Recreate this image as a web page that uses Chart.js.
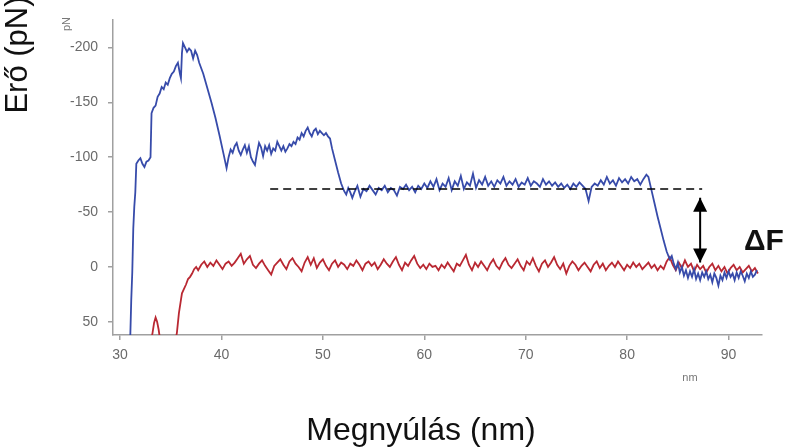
<!DOCTYPE html>
<html>
<head>
<meta charset="utf-8">
<script src="https://cdn.jsdelivr.net/npm/chart.js@4.4.1/dist/chart.umd.min.js"></script>
<style>
  html, body { margin: 0; padding: 0; background: #fff; }
  #wrap { width: 798px; height: 448px; }
</style>
</head>
<body>
<div id="wrap"><canvas id="c" width="798" height="448"></canvas></div>
<script>
// ---- data ----
const xTicks = [30, 40, 50, 60, 70, 80, 90];
const yTicks = [-200, -150, -100, -50, 0, 50];

// blue: retraction curve with unfolding events
const blueX = [31.0, 31.1, 31.2, 31.3, 31.4, 31.5, 31.6, 31.8, 32.0, 32.2, 32.4, 32.6, 32.8, 33.0, 33.1, 33.3, 33.5, 33.7, 33.9, 34.1, 34.3, 34.5, 34.7, 34.9, 35.1, 35.3, 35.5, 35.7, 35.9, 36.0, 36.1, 36.2, 36.4, 36.6, 36.8, 37.0, 37.2, 37.4, 37.6, 37.8,
  38.2, 38.6, 39.0, 39.4, 39.8, 40.2, 40.5, 40.7, 40.9,
  41.1, 41.3, 41.5, 41.7, 41.9, 42.1, 42.3, 42.5, 42.7, 42.9, 43.1, 43.3, 43.5, 43.7, 43.9, 44.1, 44.3, 44.5, 44.7, 44.9, 45.1, 45.3, 45.5, 45.7, 45.9, 46.1, 46.3, 46.5, 46.7, 46.9, 47.1, 47.3, 47.5, 47.7, 47.9, 48.1, 48.3, 48.5, 48.7, 48.9, 49.1, 49.3, 49.5, 49.7, 49.9, 50.1, 50.3, 50.5, 50.7,
  50.9, 51.2, 51.5, 51.8, 52.1, 52.3, 52.5, 52.7, 52.9,
  53.1, 53.4, 53.7, 54.0, 54.3, 54.6, 54.9, 55.2, 55.5, 55.8, 56.1, 56.4, 56.7, 57.0, 57.3, 57.6, 57.9, 58.2, 58.5, 58.8, 59.1, 59.4, 59.7, 60.0, 60.3, 60.6, 60.9, 61.2, 61.5, 61.8, 62.1, 62.4, 62.7, 63.0, 63.3, 63.6, 63.9, 64.2, 64.5, 64.8, 65.1, 65.4, 65.7, 66.0, 66.3, 66.6, 66.9, 67.2, 67.5, 67.8, 68.1, 68.4, 68.7, 69.0, 69.3, 69.6, 69.9, 70.2, 70.5, 70.8, 71.1, 71.4, 71.7, 72.0, 72.3, 72.6, 72.9, 73.2, 73.5, 73.8, 74.1, 74.4, 74.7, 75.0, 75.3, 75.6, 75.9, 76.2, 76.5, 76.8, 77.1, 77.4, 77.7, 78.0, 78.3, 78.6, 78.9, 79.2, 79.5, 79.8, 80.1, 80.4, 80.7, 81.0, 81.3, 81.6, 81.9, 82.1,
  82.4, 82.7, 83.0, 83.3, 83.6, 83.9, 84.2,
  84.4, 84.6, 84.8, 85.0, 85.2, 85.4, 85.6, 85.8, 86.0, 86.2, 86.4, 86.6, 86.8, 87.0, 87.2, 87.4, 87.6, 87.8, 88.0, 88.2, 88.4, 88.6, 88.8, 89.0, 89.2, 89.4, 89.6, 89.8, 90.0, 90.2, 90.4, 90.6, 90.8, 91.0, 91.2, 91.4, 91.6, 91.8, 92.0, 92.2, 92.4, 92.6, 92.8];
const blueY = [65, 30, 5, -35, -55, -68, -94, -97, -99, -94, -91, -96, -97, -100, -140, -145, -147, -155, -158, -164, -162, -168, -166, -172, -176, -178, -183, -186, -176, -172, -195, -204, -200, -196, -199, -197, -190, -197, -193, -186,
  -176, -163, -150, -136, -120, -103, -90, -100, -107,
  -104, -110, -113, -106, -102, -107, -111, -104, -110, -100, -96, -93, -104, -113, -109, -101, -110, -106, -111, -103, -108, -106, -114, -110, -106, -110, -105, -108, -112, -110, -114, -112, -118, -116, -122, -119, -124, -127, -122, -119, -124, -126, -121, -124, -122, -120, -122, -119, -117,
  -108, -97, -86, -76, -69, -66, -72, -68, -63,
  -68, -74, -64, -71, -69, -74, -70, -66, -72, -70, -74, -68, -72, -70, -65, -73, -71, -75, -70, -73, -68, -74, -71, -76, -72, -78, -73, -80, -70, -76, -73, -81, -70, -78, -74, -83, -71, -77, -74, -85, -72, -79, -75, -82, -74, -78, -73, -79, -76, -82, -74, -78, -75, -80, -73, -77, -75, -81, -74, -78, -76, -73, -80, -75, -78, -74, -77, -73, -76, -72, -75, -71, -76, -73, -77, -74, -71, -60, -73, -76, -74, -79, -75, -82, -76, -79, -74, -81, -77, -80, -76, -82, -78, -80, -75, -80, -84, -82,
  -70, -58, -46, -35, -24, -14, -7,
  -10, -3, 2, -4, 5, 0, 8, 3, 10, 4, 9, 2, 11, 6, 12, 5, 9, 4, 11, 7, 14, 6, 10, 17, 8, 12, 5, 10, 4, 9, 6, 12, 5, 10, 4, 8, 13, 6, 10, 4, 9, 7, 3];

// red: approach curve
const redX = [33.0, 33.2, 33.35, 33.5, 33.65, 33.8, 34.0, 35.4, 35.6, 35.8, 36.0, 36.1, 36.3, 36.5, 36.7, 36.9, 37.1, 37.3, 37.5, 37.7,
  38.0, 38.3, 38.6, 38.9, 39.2, 39.5, 39.8, 40.1, 40.4, 40.7, 41.0, 41.3, 41.6, 41.9, 42.2, 42.5, 42.8, 43.1, 43.4, 43.7, 44.0, 44.3, 44.6, 44.9, 45.2, 45.5, 45.8, 46.1, 46.4, 46.7, 47.0, 47.3, 47.6, 47.9, 48.2, 48.5, 48.8, 49.1, 49.4, 49.7, 50.0, 50.3, 50.6, 50.9, 51.2, 51.5, 51.8, 52.1, 52.4, 52.7, 53.0, 53.3, 53.6, 53.9, 54.2, 54.5, 54.8, 55.1, 55.4, 55.7, 56.0, 56.3, 56.6, 56.9, 57.2, 57.5, 57.8, 58.1, 58.4, 58.7, 59.0, 59.3, 59.6, 59.9, 60.2, 60.5, 60.8, 61.1, 61.4, 61.7, 62.0, 62.3, 62.6, 62.9, 63.2, 63.5, 63.8, 64.1, 64.4, 64.7, 65.0, 65.3, 65.6, 65.9, 66.2, 66.5, 66.8, 67.1, 67.4, 67.7, 68.0, 68.3, 68.6, 68.9, 69.2, 69.5, 69.8, 70.1, 70.4, 70.7, 71.0, 71.3, 71.6, 71.9, 72.2, 72.5, 72.8, 73.1, 73.4, 73.7, 74.0, 74.3, 74.6, 74.9, 75.2, 75.5, 75.8, 76.1, 76.4, 76.7, 77.0, 77.3, 77.6, 77.9, 78.2, 78.5, 78.8, 79.1, 79.4, 79.7, 80.0, 80.3, 80.6, 80.9, 81.2, 81.5, 81.8, 82.1, 82.4, 82.7, 83.0, 83.3, 83.6, 83.9, 84.2, 84.5, 84.8, 85.1, 85.4, 85.7, 86.0, 86.3, 86.6, 86.9, 87.2, 87.5, 87.8, 88.1, 88.4, 88.7, 89.0, 89.3, 89.6, 89.9, 90.2, 90.5, 90.8, 91.1, 91.4, 91.7, 92.0, 92.3, 92.6, 92.9];
const redY = [70, 60, 51, 46, 50, 57, 70, 70, 60, 42, 30, 24, 20, 16, 11, 9, 6, 2, 0, 3,
  -2, -5, 0, -4, -1, -6, -2, 2, -3, -5, -1, -4, -8, -12, -3, -7, -10, -2, 1, -3, -6, -1, 3, 7, -1, -4, -7, -2, 2, -5, -8, -3, 0, 4, -4, -9, -2, -8, 1, -4, -7, -1, 3, -3, -6, 0, -4, -2, 2, -3, -1, -6, -2, 3, -3, -5, -1, -4, 2, -2, -7, -3, 0, -5, -9, -2, 3, -4, -1, -6, -10, -3, 1, -2, 2, -3, 0, -1, 3, -2, 1, -4, 0, 4, -3, -1, -6, -11, -2, 3, -4, 0, -5, -1, 3, -3, -7, -1, 2, -4, -8, -2, 1, -3, -7, -1, 3, -5, -2, -8, -1, 4, -3, -6, 0, -4, -9, -2, 2, -3, 6, -1, -5, -2, 3, -1, -4, 0, 4, -2, -5, 1, -3, 3, -1, -4, 0, -5, -1, 3, -2, 1, -4, 0, -3, 2, -1, -4, 1, -2, 3, -1, 2, -5, -9, -2, 3, -4, 1, -6, 0, -3, 4, -2, 2, -1, 5, 0, -3, 3, -1, 4, 0, 6, 1, -2, 3, 0, 5, 2, -1, 4, 1, 6];

// reference level (dashed) and the force-difference arrow
const dashX = [44.8, 87.4];
const dashY = [-71, -71];
const arrowX = [87.2, 87.2];
const arrowY = [-63, -4];

const toPts = (xs, ys) => xs.map((v, i) => ({ x: v, y: ys[i] }));
const FONT = '"Liberation Sans", Arial, sans-serif';

const annotate = {
  id: 'annotate',
  afterDatasetsDraw(chart) {
    const { ctx, scales: { x, y } } = chart;
    const ax = x.getPixelForValue(arrowX[0]);
    const yT = y.getPixelForValue(arrowY[0]);
    const yB = y.getPixelForValue(arrowY[1]);
    ctx.save();
    ctx.fillStyle = '#000';
    ctx.beginPath();
    ctx.moveTo(ax, yT); ctx.lineTo(ax - 7, yT + 14); ctx.lineTo(ax + 7, yT + 14); ctx.closePath(); ctx.fill();
    ctx.beginPath();
    ctx.moveTo(ax, yB); ctx.lineTo(ax - 7, yB - 14); ctx.lineTo(ax + 7, yB - 14); ctx.closePath(); ctx.fill();
    ctx.restore();
  },
  afterDraw(chart) {
    const ctx = chart.ctx;
    ctx.save();
    ctx.fillStyle = '#111';
    ctx.font = '31px ' + FONT;
    ctx.textAlign = 'center';
    ctx.textBaseline = 'alphabetic';
    ctx.save();
    ctx.translate(27, 55);
    ctx.rotate(-Math.PI / 2);
    ctx.fillText('Erő (pN)', 0, 0);
    ctx.restore();
    ctx.font = '32px ' + FONT;
    ctx.fillText('Megnyúlás (nm)', 421, 440);
    ctx.font = 'bold 30px ' + FONT;
    ctx.textAlign = 'left';
    ctx.fillText('ΔF', 744, 250);
    ctx.fillStyle = '#777';
    ctx.font = '11px ' + FONT;
    ctx.textAlign = 'center';
    ctx.textBaseline = 'middle';
    ctx.fillText('nm', 690, 378);
    ctx.save();
    ctx.translate(67, 24);
    ctx.rotate(-Math.PI / 2);
    ctx.fillText('pN', 0, 0);
    ctx.restore();
    ctx.restore();
  }
};

new Chart(document.getElementById('c'), {
  type: 'scatter',
  data: {
    datasets: [
      { label: 'retract', data: toPts(blueX, blueY), showLine: true, borderColor: 'rgb(55,75,170)', borderWidth: 1.8, pointRadius: 0, order: 1 },
      { label: 'approach', data: toPts(redX, redY), showLine: true, borderColor: 'rgb(185,40,50)', borderWidth: 1.8, pointRadius: 0, order: 2 },
      { label: 'level', data: toPts(dashX, dashY), showLine: true, borderColor: '#000', borderWidth: 1.5, borderDash: [8, 5], pointRadius: 0, order: 0 },
      { label: 'dF', data: toPts(arrowX, arrowY), showLine: true, borderColor: '#000', borderWidth: 2, pointRadius: 0, order: 0 }
    ]
  },
  options: {
    responsive: false,
    animation: false,
    layout: { padding: { top: 20, right: 36, left: 0, bottom: 0 } },
    plugins: { legend: { display: false }, tooltip: { enabled: false } },
    scales: {
      x: {
        type: 'linear', min: 29.3, max: 93.3,
        afterBuildTicks: s => { s.ticks = xTicks.map(v => ({ value: v })); },
        afterFit: s => { s.height = 113; },
        border: { display: true, color: '#a0a0a0', width: 1.5 },
        grid: { drawOnChartArea: false, drawTicks: true, tickLength: 5, color: '#a0a0a0', lineWidth: 1.5 },
        ticks: { color: '#6a6a6a', font: { size: 14, family: FONT }, padding: 7, maxRotation: 0 }
      },
      y: {
        type: 'linear', min: -225, max: 62, reverse: true,
        afterBuildTicks: s => { s.ticks = yTicks.map(v => ({ value: v })); },
        afterFit: s => { s.width = 113; },
        border: { display: true, color: '#a0a0a0', width: 1.5 },
        grid: { drawOnChartArea: false, drawTicks: true, tickLength: 5, color: '#a0a0a0', lineWidth: 1.5 },
        ticks: { color: '#6a6a6a', font: { size: 14, family: FONT }, padding: 10,
                 callback: v => String(v) }
      }
    }
  },
  plugins: [annotate]
});
</script>
</body>
</html>
